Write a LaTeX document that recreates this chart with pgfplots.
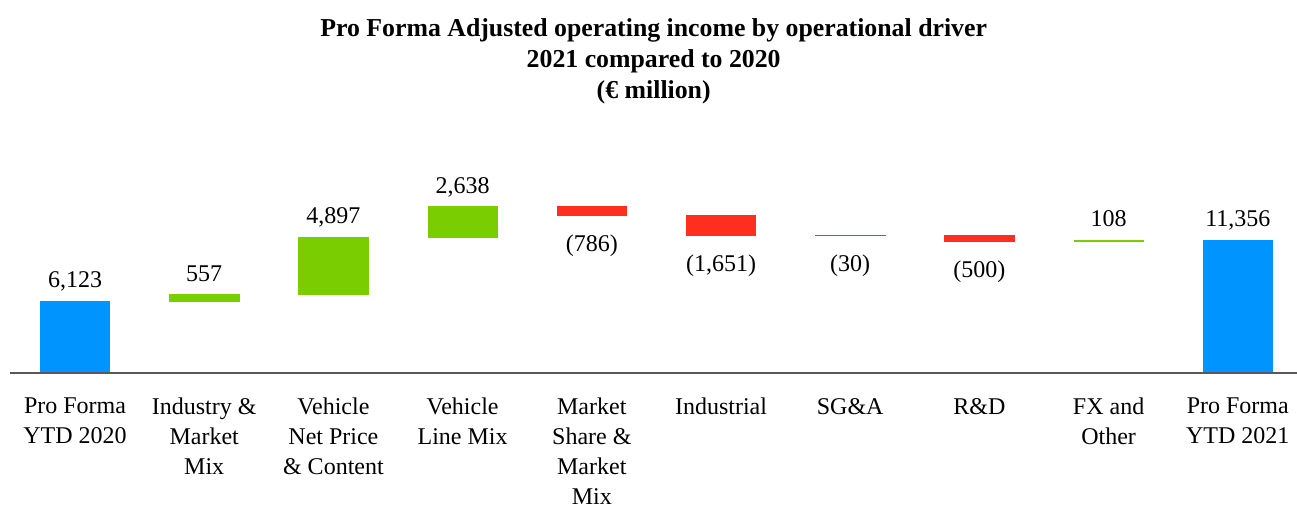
\documentclass[border=0pt]{standalone}
\usepackage{pgfplots}
\pgfplotsset{compat=1.18}
\usepackage{fontspec}
\setmainfont{Liberation Serif}
\definecolor{cblue}{RGB}{0,148,255}
\definecolor{cgreen}{RGB}{122,206,0}
\definecolor{cred}{RGB}{255,46,31}
\definecolor{caxis}{RGB}{89,89,89}
\begin{document}
\begin{tikzpicture}
\begin{axis}[
  at={(0,0)}, anchor=south west,
  width=648.5pt, height=131.5pt, scale only axis,
  xmin=-0.5805, xmax=9.458, ymin=0, ymax=22460,
  clip=false,
  axis line style={draw=none},
  ytick=\empty,
  xtick={0,...,9},
  xticklabels={{Pro Forma\\YTD 2020},{Industry \&\\Market\\Mix},{Vehicle\\Net Price\\\& Content},{Vehicle\\Line Mix},{Market\\Share \&\\Market\\Mix},{Industrial},{SG\&A},{R\&D},{FX and\\Other},{Pro Forma\\YTD 2021}},
  major tick length=0pt,
  xticklabel style={align=center, anchor=north, inner sep=0pt, yshift=-12.4pt, font=\fontsize{12}{15}\selectfont},
  title={Pro Forma Adjusted operating income by operational driver\\2021 compared to 2020\\(€ million)},
  title style={at={(axis description cs:0.5,1.302)}, anchor=north, inner sep=0pt, xshift=2.6pt, align=center, font=\bfseries\fontsize{12.9}{15.5}\selectfont},
]
% bars: start / end totals (blue)
\addplot[fill=cblue, draw=cblue, line width=0.3pt] coordinates {(-0.268,0) (0.268,0) (0.268,6123) (-0.268,6123)} -- cycle;
\addplot[fill=cblue, draw=cblue, line width=0.3pt] coordinates {(8.735,0) (9.265,0) (9.265,11356) (8.735,11356)} -- cycle;
% increases (green)
\addplot[fill=cgreen, draw=cgreen, line width=0.3pt] coordinates {(0.732,6123) (1.268,6123) (1.268,6680) (0.732,6680)} -- cycle;
\addplot[fill=cgreen, draw=cgreen, line width=0.3pt] coordinates {(1.732,6680) (2.268,6680) (2.268,11577) (1.732,11577)} -- cycle;
\addplot[fill=cgreen, draw=cgreen, line width=0.3pt] coordinates {(2.732,11577) (3.268,11577) (3.268,14215) (2.732,14215)} -- cycle;
\addplot[fill=cgreen, draw=cgreen, line width=0.3pt] coordinates {(7.732,11248) (8.268,11248) (8.268,11356) (7.732,11356)} -- cycle;
% decreases (red)
\addplot[fill=cred, draw=cred, line width=0.3pt] coordinates {(3.732,13429) (4.268,13429) (4.268,14215) (3.732,14215)} -- cycle;
\addplot[fill=cred, draw=cred, line width=0.3pt] coordinates {(4.732,11778) (5.268,11778) (5.268,13429) (4.732,13429)} -- cycle;
\addplot[fill=cred, draw=cred, line width=0.3pt] coordinates {(5.732,11748) (6.268,11748) (6.268,11778) (5.732,11778)} -- cycle;
\addplot[fill=cred, draw=cred, line width=0.3pt] coordinates {(6.732,11248) (7.268,11248) (7.268,11748) (6.732,11748)} -- cycle;
% baseline
\addplot[draw=caxis, line width=1pt] coordinates {(-0.503,0) (9.458,0)};
% value labels
\addplot[draw=none, nodes near coords, point meta=explicit symbolic,
  every node near coord/.append style={anchor=base, yshift=6.75pt, inner sep=0pt, text=black, font=\fontsize{12}{14}\selectfont}]
  coordinates {(0,6123) [6,123] (1,6680) [557] (2,11577) [4,897] (3,14215) [2,638] (8,11356) [108] (9,11356) [11,356]};
\addplot[draw=none, nodes near coords, point meta=explicit symbolic,
  every node near coord/.append style={anchor=base, yshift=-18pt, inner sep=0pt, text=black, font=\fontsize{12}{14}\selectfont}]
  coordinates {(4,13429) [(786)] (5,11778) [(1,651)] (6,11748) [(30)] (7,11248) [(500)]};
\end{axis}
\pgfresetboundingbox
\path[use as bounding box] (0,-65.5pt) rectangle (648.5pt,186.5pt);
\end{tikzpicture}
\end{document}
